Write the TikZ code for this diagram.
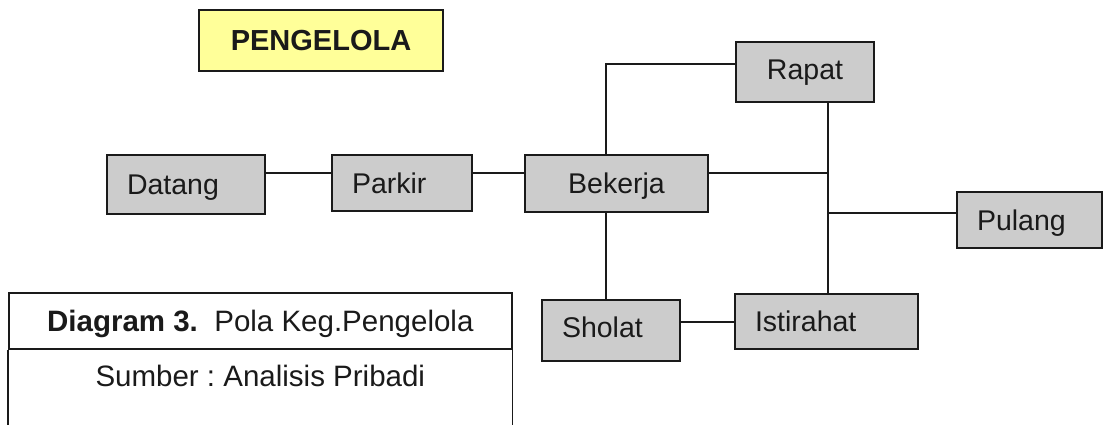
\documentclass[tikz,border=0pt]{standalone}
\usepackage{fontspec}
\setmainfont{Liberation Sans}
\usetikzlibrary{calc}
\frenchspacing
\definecolor{boxgray}{RGB}{204,204,204}
\definecolor{titleyellow}{RGB}{255,255,153}
\definecolor{ink}{RGB}{26,26,26}
\tikzset{
  base/.style={draw=ink, line width=2pt, anchor=north west, inner xsep=0pt,
    font=\fontsize{28.5}{30}\selectfont, text=ink, text height=20.4pt, text depth=0pt},
  actbox/.style={base, fill=boxgray},
  leftbox/.style={actbox, text width=#1, align=left},
  midbox/.style={actbox, text width=#1, align=center},
  link/.style={draw=ink, line width=2pt},
  captext/.style={text=ink, font=\fontsize{29.5}{31}\selectfont}
}
\begin{document}
\begin{tikzpicture}[x=1pt, y=-1pt]
  \useasboundingbox (0,0) rectangle (1104,424);

  % title
  \node[base, fill=titleyellow, minimum width=244pt, minimum height=61pt,
        text width=244pt, align=center, font=\fontsize{29}{30}\selectfont\bfseries]
        (title) at (198,9) {PENGELOLA};

  % activities
  \node[leftbox=158pt, minimum height=59pt] (datang) at (106,154) {\hspace*{20pt}Datang};
  \node[leftbox=140pt, minimum height=56pt] (parkir) at (331,154) {\hspace*{20pt}Parkir};
  \node[midbox=183pt, minimum height=57pt] (bekerja) at (524,154) {Bekerja};
  \node[midbox=138pt, minimum height=60pt, text depth=5pt] (rapat) at (735,41) {Rapat};
  \node[leftbox=145pt, minimum height=56pt] (pulang) at (956,191) {\hspace*{20pt}Pulang};
  \node[leftbox=138pt, minimum height=61pt, text depth=7pt] (sholat) at (541,299) {\hspace*{20pt}Sholat};
  \node[leftbox=183pt, minimum height=55pt] (istirahat) at (734,293) {\hspace*{20pt}Istirahat};

  % routing rows and columns
  \coordinate (rowmain) at (0,173);
  \coordinate (rowrapat) at (0,64);
  \coordinate (rowpulang) at (0,213);
  \coordinate (rowrest) at (0,322);
  \coordinate (colwork) at (606,0);
  \coordinate (colout) at (828,0);

  % connectors
  \draw[link] (datang.east |- rowmain) -- (parkir.west |- rowmain);
  \draw[link] (parkir.east |- rowmain) -- (bekerja.west |- rowmain);
  \draw[link] (bekerja.north -| colwork) |- (rapat.west |- rowrapat);
  \draw[link] (bekerja.south -| colwork) -- (sholat.north -| colwork);
  \draw[link] (sholat.east |- rowrest) -- (istirahat.west |- rowrest);
  \draw[link] (rapat.south -| colout) -- (istirahat.north -| colout);
  \draw[link] (bekerja.east |- rowmain) -- (colout |- rowmain);
  \draw[link] (colout |- rowpulang) -- (pulang.west |- rowpulang);

  % caption table
  \node[captext, draw=ink, line width=1.6pt, anchor=north west, minimum width=503pt,
        minimum height=56pt, inner sep=0pt, text height=21pt, text depth=0pt]
        (caption) at (8,292) {\textbf{Diagram 3.}\ \ Pola Keg.Pengelola};
  \node[captext, anchor=base, inner sep=0pt]
        (source) at ($(caption.south)+(0,37)$) {Sumber : Analisis Pribadi};
  \coordinate (capleftend) at (8,426);
  \coordinate (caprightend) at (511,426);
  \draw[draw=ink, line width=1.6pt] (caption.south west) -- (caption.south west |- capleftend);
  \draw[draw=ink, line width=1.6pt] (caption.south east) -- (caption.south east |- caprightend);
\end{tikzpicture}
\end{document}
